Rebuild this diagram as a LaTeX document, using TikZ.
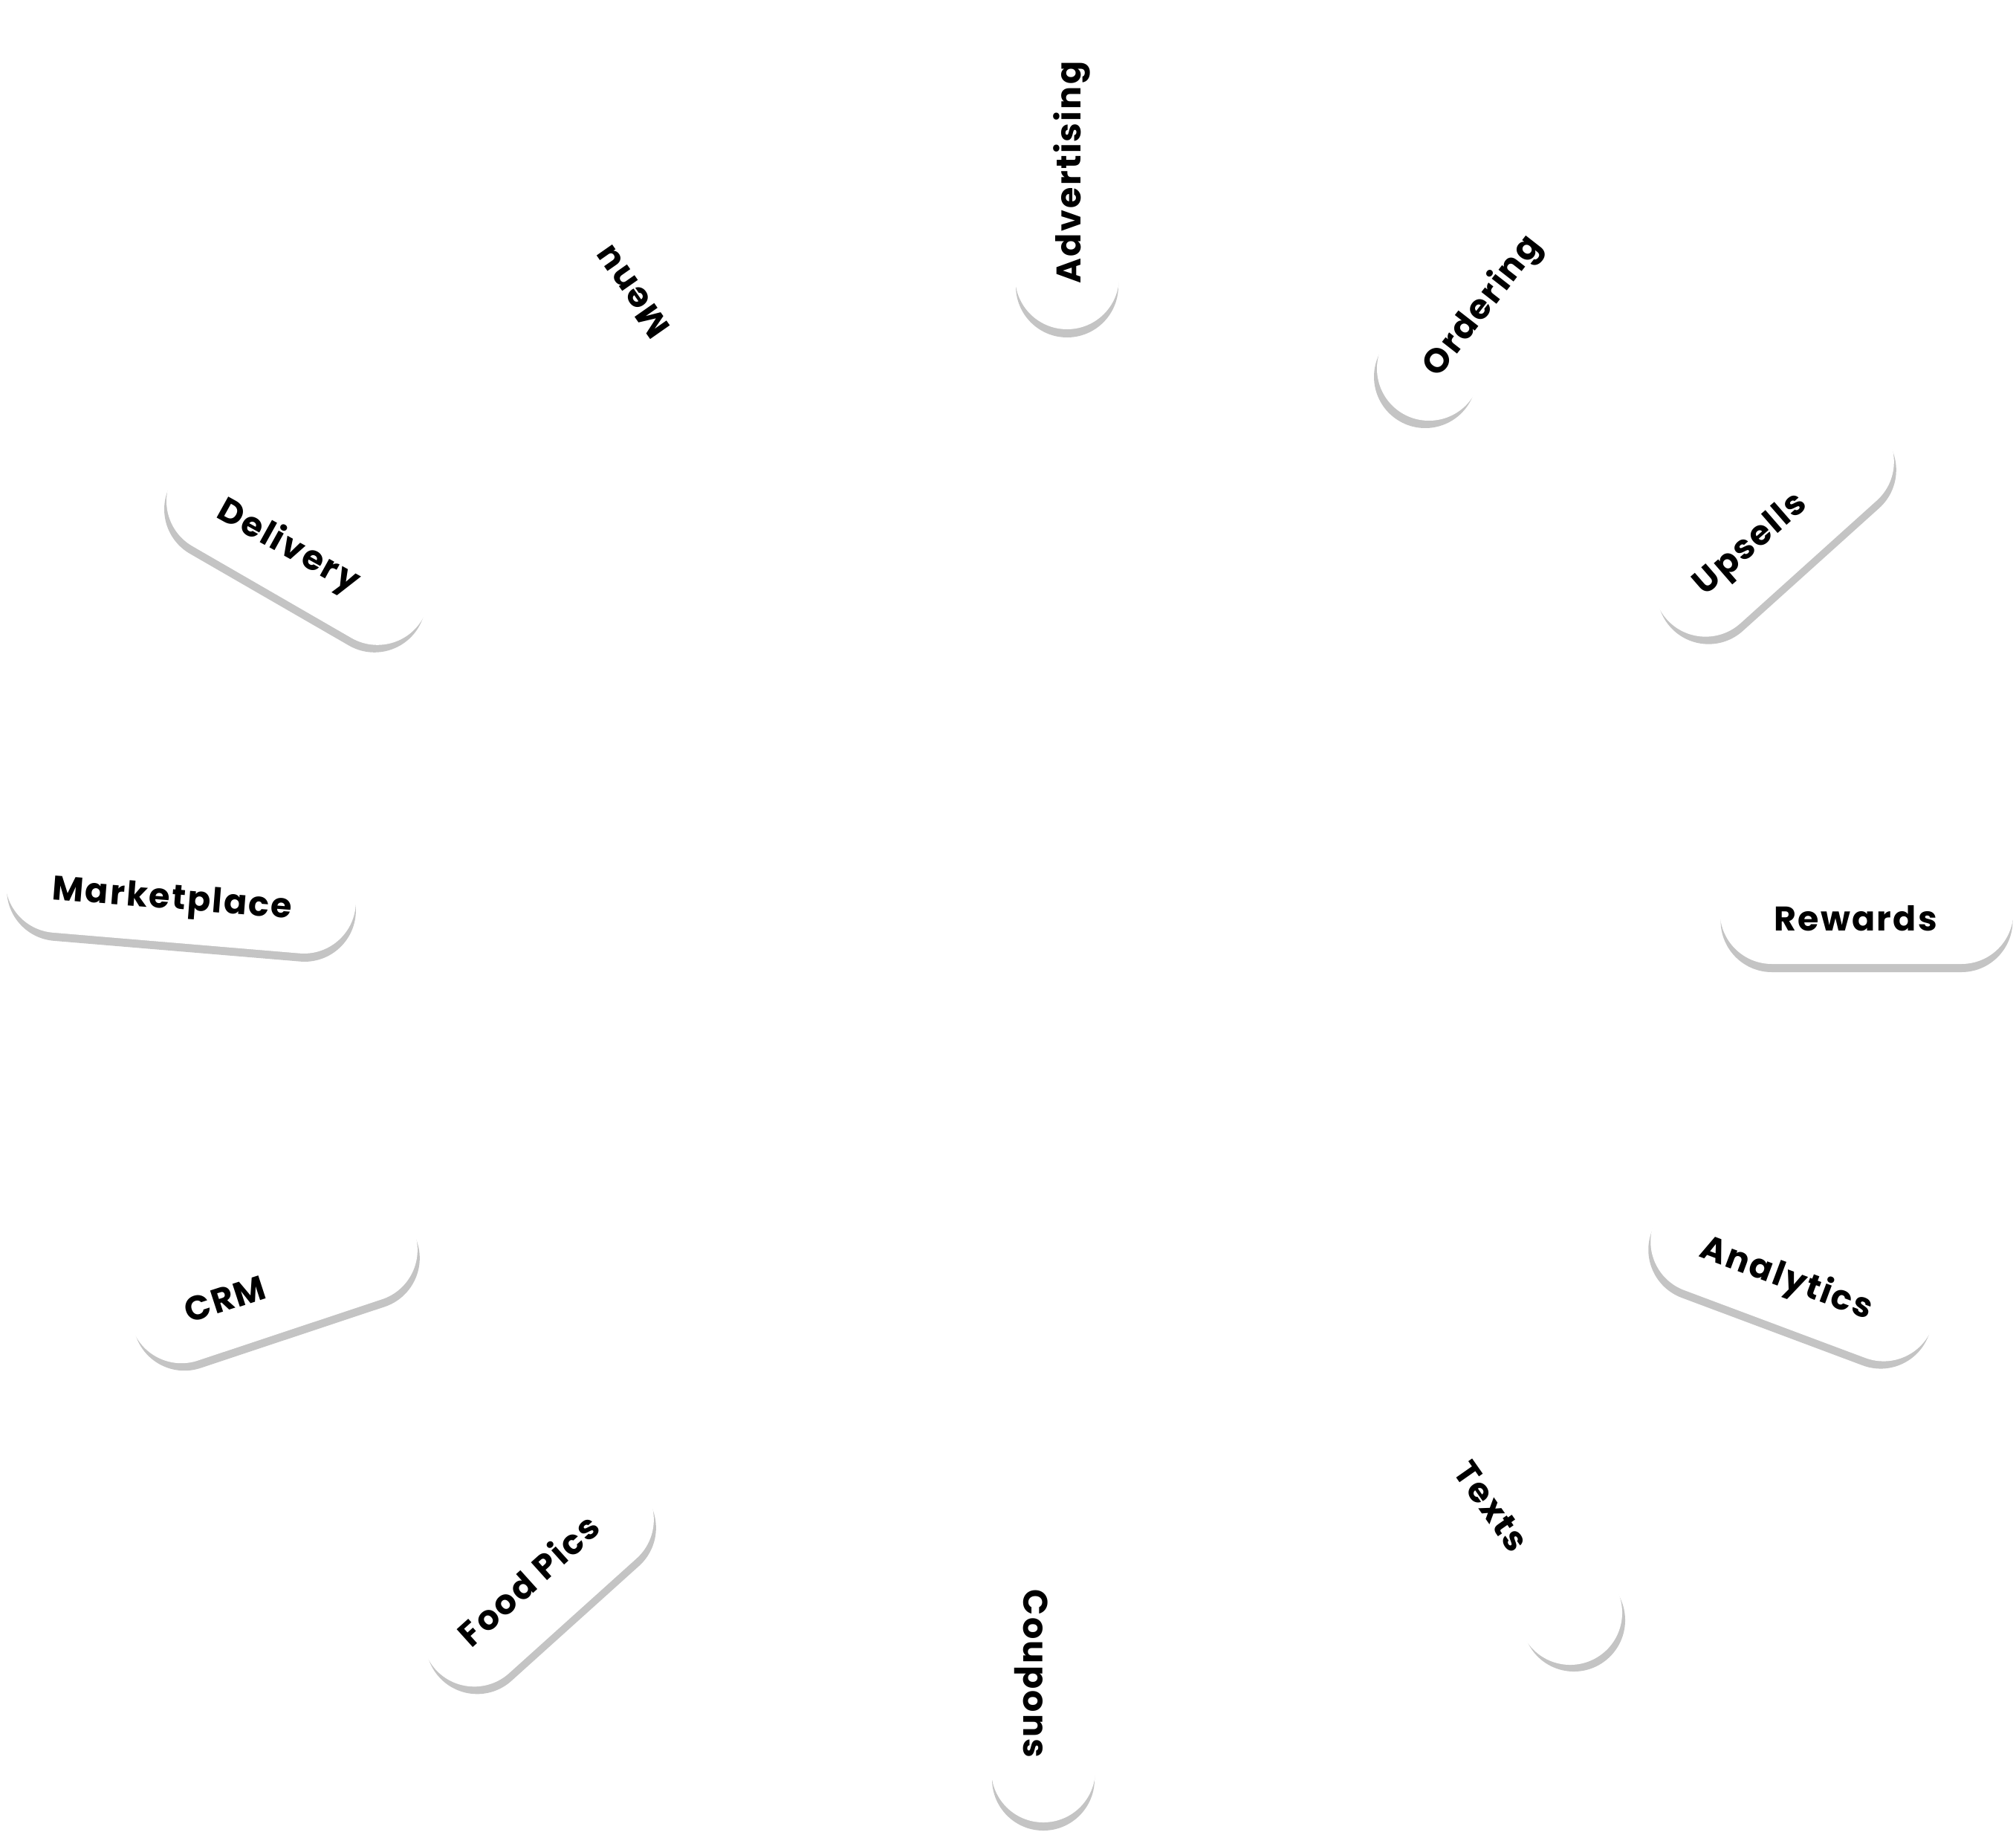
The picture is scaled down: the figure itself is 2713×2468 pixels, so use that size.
\documentclass[tikz,border=0pt]{standalone}
\usepackage{fontspec}
\newfontfamily\pillfont[LetterSpace=5]{Poppins}
\definecolor{pillshade}{RGB}{196,196,196}

\begin{document}
\begin{tikzpicture}[
  x=1pt, y=-1pt,
  pill/.style={rectangle, rounded corners=70pt, minimum height=140pt, inner sep=0pt, fill=white},
  pillshadow/.style={pill, rounded corners=69pt, minimum height=138pt, fill=pillshade},
  plabel/.style={inner sep=0pt, text height=32pt, text depth=0pt, font=\pillfont\bfseries\fontsize{46}{50}\selectfont}
]
  \useasboundingbox (0,0) rectangle (2713,2468);

  % pills with their shadow (name/x/y/angle/length/shadow dx/shadow dy)
  \foreach \n/\x/\y/\ang/\len/\dx/\dy in {advertising/1436/232/90/422/0/12, ordering/1923/496/52/140/-5/11,
      upsells/2387/704/42/387/4/11, rewards/2512/1227/0/395/0/12, analytics/2413/1716/-20.5/400/-4/11,
      texts/2113/2170/-55/140/5/10, coupons/1404/2252/90/400/0/12, foodpics/724/2122/42/371/4/11,
      crm/368/1723/18.4/401/4/11, marketplace/243/1199/-4.8/473/1/12, delivery/401/736/-30/387/-4/11} {
    \node[pillshadow, rotate=\ang, minimum width=\len pt-2pt] (\n-sh) at (\x+\dx,\y+\dy) {};
    \node[pill, rotate=\ang, minimum width=\len pt] (\n) at (\x,\y) {};
  }

  % labels
  \foreach \n/\x/\y/\ang/\lbl in {advertising/1438/232/90/Advertising, ordering/1993/410/52/Ordering,
      upsells/2354/730/41/Upsells, rewards/2497/1236/0/Rewards, analytics/2405/1718/-20.5/Analytics,
      texts/2007/2027/-55/Texts, coupons/1393/2252/-90/Coupons, foodpics/712/2127/42/Food Pics,
      crm/303/1748/18/CRM, marketplace/232/1207/-4.5/Marketplace, delivery/389/733/-29/Delivery,
      menu/850/393/125/Menu} {
    \node[plabel, rotate=\ang] (\n-txt) at (\x,\y) {\lbl};
  }
\end{tikzpicture}
\end{document}
